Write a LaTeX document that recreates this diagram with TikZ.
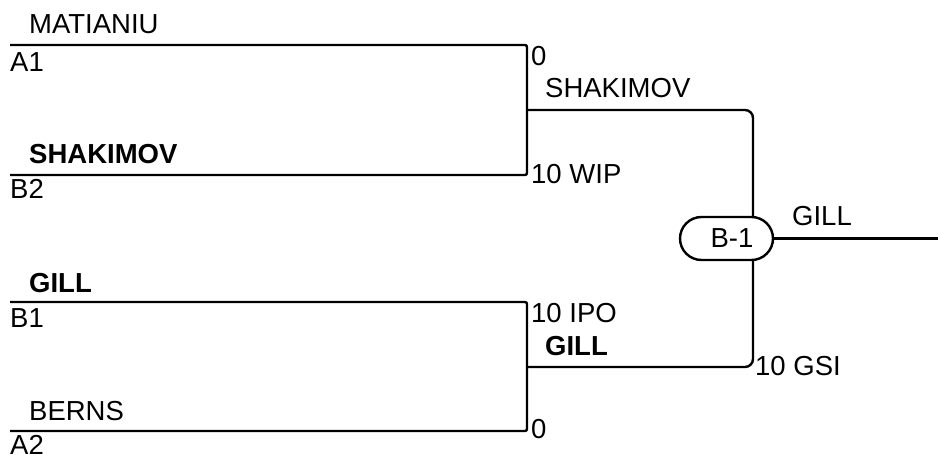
\documentclass[tikz,border=0pt]{standalone}
\usepackage{fontspec}
\setmainfont{Liberation Sans}
\usetikzlibrary{shapes.misc}
\begin{document}
\begin{tikzpicture}[x=1pt,y=-1pt,
  wire/.style={line width=2.4pt},
  lbl/.style={anchor=base west, inner sep=0pt, font=\fontsize{27.5}{32}\selectfont},
  blbl/.style={anchor=base west, inner sep=0pt, font=\fontsize{27.5}{32}\selectfont\bfseries},
  pill/.style={rounded rectangle, draw, line width=2.4pt, minimum width=93pt, minimum height=43pt, inner sep=0pt, font=\fontsize{27.5}{32}\selectfont}]
\useasboundingbox (0,0) rectangle (938,455);
% line end points
\coordinate (a1s) at (10,45);  \coordinate (a1e) at (527,45);
\coordinate (b2s) at (10,175); \coordinate (b2e) at (527,175);
\coordinate (b1s) at (10,302); \coordinate (b1e) at (527,302);
\coordinate (a2s) at (10,431); \coordinate (a2e) at (527,431);
\coordinate (m1) at (527,110); \coordinate (m2) at (527,367);
\coordinate (r1) at (753,110); \coordinate (r2) at (753,367);
\coordinate (out) at (938,238.5);
\node[pill] (bnode) at (726.5,238.5) {\hspace{11pt}B-1};
% brackets
\draw[wire, rounded corners=2pt] (a1s) -- (a1e) -- (b2e) -- (b2s);
\draw[wire, rounded corners=2pt] (b1s) -- (b1e) -- (a2e) -- (a2s);
\draw[wire, rounded corners=8pt] (m1) -- (r1) -- (r1 |- bnode.north);
\draw[wire, rounded corners=8pt] (m2) -- (r2) -- (r2 |- bnode.south);
\draw[wire] (bnode.east) -- (out);
% labels
\node[lbl] (tmat) at (29,34) {MATIANIU};
\node[lbl] (ta1) at (10,71) {A1};
\node[blbl] (tsha) at (29,163) {SHAKIMOV};
\node[lbl] (tb2) at (10,198) {B2};
\node[blbl] (tgill) at (29,292) {GILL};
\node[lbl] (tb1) at (10,327) {B1};
\node[lbl] (tberns) at (29,420) {BERNS};
\node[lbl] (ta2) at (10,454) {A2};
\node[lbl] (s1) at (531,65) {0};
\node[lbl] (w1) at (545,97) {SHAKIMOV};
\node[lbl] (s2) at (531,183) {10 WIP};
\node[lbl] (w3) at (792,225) {GILL};
\node[lbl] (s3) at (531,322) {10 IPO};
\node[blbl] (w2) at (545,355) {GILL};
\node[lbl] (s5) at (755,375) {10 GSI};
\node[lbl] (s4) at (531,438) {0};
\end{tikzpicture}
\end{document}
